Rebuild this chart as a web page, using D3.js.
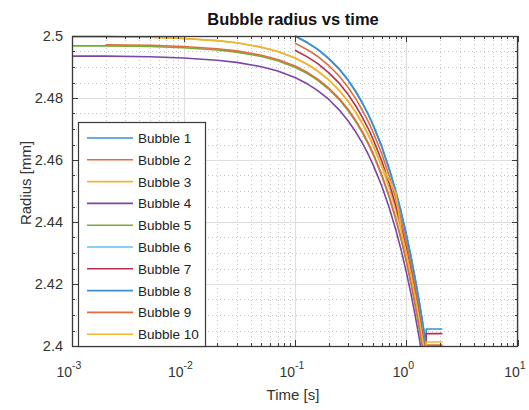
<!DOCTYPE html>
<html>
<head>
<meta charset="utf-8">
<script src="https://cdn.jsdelivr.net/npm/d3@7/dist/d3.min.js"></script>
<style>
  body { margin: 0; background: #fff; }
  svg { display: block; font-family: 'Liberation Sans', Arial, sans-serif; }
</style>
</head>
<body>
<div id="graf"></div>
<script>
// Tiempos muestreados [s] (compartidos por todas las burbujas)
const time = [0.001, 0.002, 0.005, 0.01, 0.02, 0.03, 0.05, 0.07, 0.1, 0.13, 0.16, 0.2, 0.25, 0.3,
              0.35, 0.4, 0.45, 0.5, 0.6, 0.7, 0.8, 0.9, 1.0, 1.1, 1.2, 1.3, 1.4, 1.5]

// Radio [mm], null = la burbuja aun no existe
const bubble1  = [null, null, null, null, null, null, null, null,
                  2.5000, 2.4978, 2.4957, 2.4928, 2.4893, 2.4857, 2.4821, 2.4785, 2.4750, 2.4714,
                  2.4643, 2.4571, 2.4500, 2.4428, 2.4357, 2.4286, 2.4214, 2.4143, 2.4071, 2.4000]
const bubble2  = [null, null, null, null, null, null, null, null,
                  2.4977, 2.4955, 2.4934, 2.4905, 2.4870, 2.4834, 2.4798, 2.4762, 2.4727, 2.4691,
                  2.4620, 2.4548, 2.4477, 2.4405, 2.4334, 2.4263, 2.4191, 2.4120, 2.4048, 2.3977]
const bubble3  = [2.4998, 2.4998, 2.4996, 2.4992, 2.4985, 2.4978, 2.4964, 2.4950,
                  2.4929, 2.4908, 2.4887, 2.4859, 2.4824, 2.4789, 2.4754, 2.4719, 2.4684, 2.4649,
                  2.4579, 2.4509, 2.4439, 2.4369, 2.4299, 2.4229, 2.4159, 2.4089, 2.4019, 2.3949]
const bubble4  = [2.4935, 2.4935, 2.4933, 2.4929, 2.4922, 2.4915, 2.4901, 2.4887,
                  2.4866, 2.4845, 2.4824, 2.4796, 2.4761, 2.4726, 2.4691, 2.4656, 2.4621, 2.4586,
                  2.4516, 2.4446, 2.4376, 2.4306, 2.4236, 2.4166, 2.4096, 2.4026, 2.3956, 2.3886]
const bubble5  = [2.4968, 2.4968, 2.4966, 2.4962, 2.4955, 2.4948, 2.4934, 2.4920,
                  2.4899, 2.4878, 2.4857, 2.4829, 2.4794, 2.4759, 2.4724, 2.4689, 2.4654, 2.4619,
                  2.4549, 2.4479, 2.4409, 2.4339, 2.4269, 2.4199, 2.4129, 2.4059, 2.3989, 2.3919]
const bubble6  = [null, null, null, null, null, null, null, null,
                  2.5000, 2.4978, 2.4957, 2.4928, 2.4893, 2.4857, 2.4821, 2.4785, 2.4750, 2.4714,
                  2.4643, 2.4571, 2.4500, 2.4428, 2.4357, 2.4286, 2.4214, 2.4143, 2.4071, 2.4000]
const bubble7  = [null, null, null, null, null, null, null, null,
                  2.4954, 2.4932, 2.4911, 2.4882, 2.4847, 2.4811, 2.4775, 2.4739, 2.4704, 2.4668,
                  2.4597, 2.4525, 2.4454, 2.4382, 2.4311, 2.4240, 2.4168, 2.4097, 2.4025, 2.3954]
const bubble8  = [null, null, null, null, null, null, null, null,
                  2.5000, 2.4978, 2.4957, 2.4928, 2.4893, 2.4857, 2.4821, 2.4785, 2.4750, 2.4714,
                  2.4643, 2.4571, 2.4500, 2.4428, 2.4357, 2.4286, 2.4214, 2.4143, 2.4071, 2.4000]
const bubble9  = [null, 2.4972, 2.4970, 2.4966, 2.4959, 2.4952, 2.4938, 2.4924,
                  2.4903, 2.4882, 2.4861, 2.4833, 2.4798, 2.4763, 2.4728, 2.4693, 2.4658, 2.4623,
                  2.4553, 2.4483, 2.4413, 2.4343, 2.4273, 2.4203, 2.4133, 2.4063, 2.3993, 2.3923]
const bubble10 = [2.4998, 2.4998, 2.4996, 2.4992, 2.4985, 2.4978, 2.4964, 2.4950,
                  2.4929, 2.4908, 2.4887, 2.4859, 2.4824, 2.4789, 2.4754, 2.4719, 2.4684, 2.4649,
                  2.4579, 2.4535, 2.4495, 2.4369, 2.4299, 2.4229, 2.4159, 2.4089, 2.4019, 2.3949]

// Tramo final horizontal de cada burbuja
const stubTime   = [1.5, 2.1]
const stubRadius = [2.4055, 2.4003, 2.3985, 2.3940, 2.3960, 2.3970, 2.4040, 2.4000, 2.4001, 2.4013]

const names  = ['Bubble 1', 'Bubble 2', 'Bubble 3', 'Bubble 4', 'Bubble 5',
                'Bubble 6', 'Bubble 7', 'Bubble 8', 'Bubble 9', 'Bubble 10']
const colors = ['#3a8fd2', '#df6e3c', '#eeb530', '#7b45a6', '#76ad34',
                '#5cc3ee', '#b5304a', '#3a8fd2', '#df6e3c', '#eeb530']
const radii  = [bubble1, bubble2, bubble3, bubble4, bubble5, bubble6, bubble7, bubble8, bubble9, bubble10]

const xTicks = [1e-3, 1e-2, 1e-1, 1, 10]
const xTickExp = ['-3', '-2', '-1', '0', '1']
const yTicks = [2.4, 2.42, 2.44, 2.46, 2.48, 2.5]

// Dimensiones
const ancho_total = 529, alto_total = 410
const margen = { izquierdo: 72, derecho: 11, superior: 36, inferior: 64 }

const svg = d3.select('#graf').append('svg')
  .attr('width', ancho_total)
  .attr('height', alto_total)

const x = d3.scaleLog().domain([1e-3, 10]).range([margen.izquierdo, ancho_total - margen.derecho])
const y = d3.scaleLinear().domain([2.4, 2.5]).range([alto_total - margen.inferior, margen.superior])

const [x0, x1] = x.range()
const [y0, y1] = y.range()   // y0 abajo, y1 arriba

svg.append('rect').attr('x', x0).attr('y', y1).attr('width', x1 - x0).attr('height', y0 - y1).attr('fill', '#fff')

// Rejilla menor (punteada)
const minorX = x.ticks().filter(t => !xTicks.some(m => Math.abs(m - t) < 1e-9))
const minorY = d3.range(0, 21).map(i => 2.4 + i * 0.005).filter(v => !yTicks.some(m => Math.abs(m - v) < 1e-9))

const grid = svg.append('g')
grid.selectAll('line.mx').data(minorX).enter().append('line')
  .attr('x1', d => Math.round(x(d)) + 0.5).attr('x2', d => Math.round(x(d)) + 0.5)
  .attr('y1', y1).attr('y2', y0)
  .attr('stroke', '#c4c4c4').attr('stroke-dasharray', '1,3')
grid.selectAll('line.my').data(minorY).enter().append('line')
  .attr('y1', d => Math.round(y(d)) + 0.5).attr('y2', d => Math.round(y(d)) + 0.5)
  .attr('x1', x0).attr('x2', x1)
  .attr('stroke', '#c4c4c4').attr('stroke-dasharray', '1,3')
// Rejilla mayor
grid.selectAll('line.gx').data(xTicks).enter().append('line')
  .attr('x1', d => Math.round(x(d)) + 0.5).attr('x2', d => Math.round(x(d)) + 0.5)
  .attr('y1', y1).attr('y2', y0)
  .attr('stroke', '#dedede').attr('stroke-width', 1.2)
grid.selectAll('line.gy').data(yTicks).enter().append('line')
  .attr('y1', d => Math.round(y(d)) + 0.5).attr('y2', d => Math.round(y(d)) + 0.5)
  .attr('x1', x0).attr('x2', x1)
  .attr('stroke', '#dedede').attr('stroke-width', 1.2)

// Curvas
svg.append('clipPath').attr('id', 'clip')
  .append('rect').attr('x', x0).attr('y', y1 - 1).attr('width', x1 - x0).attr('height', y0 - y1 + 1)

const linea = d3.line().x(d => x(d[0])).y(d => y(d[1]))

const series = radii.map((r, i) => {
  const pts = time.map((t, j) => [t, r[j]]).filter(p => p[1] !== null)
  stubTime.forEach(t => pts.push([t, stubRadius[i]]))
  return pts
})

svg.append('g').attr('clip-path', 'url(#clip)')
  .selectAll('path').data(series).enter().append('path')
  .attr('d', linea)
  .attr('fill', 'none')
  .attr('stroke', (d, i) => colors[i])
  .attr('stroke-width', 1.6)
  .attr('stroke-linejoin', 'round')

// Ejes con marcas hacia adentro en los cuatro lados
const ejeColor = '#3a3a3a'
const ejes = svg.append('g').attr('stroke', ejeColor)
const marcasX = xTicks.map(v => [v, 6]).concat(minorX.map(v => [v, 3]))
const marcasY = yTicks.map(v => [v, 6]).concat(minorY.map(v => [v, 3]))

ejes.selectAll('line.tb').data(marcasX).enter().append('line')
  .attr('x1', d => Math.round(x(d[0])) + 0.5).attr('x2', d => Math.round(x(d[0])) + 0.5)
  .attr('y1', y0).attr('y2', d => y0 - d[1])
ejes.selectAll('line.tt').data(marcasX).enter().append('line')
  .attr('x1', d => Math.round(x(d[0])) + 0.5).attr('x2', d => Math.round(x(d[0])) + 0.5)
  .attr('y1', y1).attr('y2', d => y1 + d[1])
ejes.selectAll('line.tl').data(marcasY).enter().append('line')
  .attr('y1', d => Math.round(y(d[0])) + 0.5).attr('y2', d => Math.round(y(d[0])) + 0.5)
  .attr('x1', x0).attr('x2', d => x0 + d[1])
ejes.selectAll('line.tr').data(marcasY).enter().append('line')
  .attr('y1', d => Math.round(y(d[0])) + 0.5).attr('y2', d => Math.round(y(d[0])) + 0.5)
  .attr('x1', x1).attr('x2', d => x1 - d[1])

svg.append('rect')
  .attr('x', x0 + 0.5).attr('y', y1 + 0.5)
  .attr('width', x1 - x0 - 1).attr('height', y0 - y1)
  .attr('fill', 'none').attr('stroke', ejeColor).attr('stroke-width', 1.3)

// Etiquetas de los ejes
const xl = svg.append('g').attr('fill', '#333').style('font-size', '14px')
xTicks.forEach((v, i) => {
  const t = xl.append('text').attr('x', x(v) - 3).attr('y', y0 + 31).attr('text-anchor', 'middle')
  t.append('tspan').text('10')
  t.append('tspan').attr('dy', -8).style('font-size', '10.5px').text(xTickExp[i])
})

svg.append('g').attr('fill', '#333').style('font-size', '14.5px')
  .selectAll('text').data(yTicks).enter().append('text')
  .attr('x', x0 - 9).attr('y', d => y(d) + 5)
  .attr('text-anchor', 'end')
  .text(d => d3.format('.2~f')(d))

svg.append('text')
  .attr('x', (x0 + x1) / 2 - 2).attr('y', 400)
  .attr('text-anchor', 'middle').attr('fill', '#333')
  .style('font-size', '15px')
  .text('Time [s]')

svg.append('text')
  .attr('transform', `translate(31, ${(y0 + y1) / 2 - 8}) rotate(-90)`)
  .attr('text-anchor', 'middle').attr('fill', '#333')
  .style('font-size', '15px')
  .text('Radius [mm]')

svg.append('text')
  .attr('x', 293).attr('y', 25)
  .attr('text-anchor', 'middle').attr('fill', '#111')
  .style('font-size', '16.5px').style('font-weight', 'bold')
  .text('Bubble radius vs time')

// Leyenda
const leyenda = svg.append('g')
leyenda.append('rect')
  .attr('x', 78.5).attr('y', 122.5).attr('width', 127).attr('height', 224)
  .attr('fill', '#fff').attr('stroke', ejeColor).attr('stroke-width', 1.2)

const item = leyenda.selectAll('g').data(names).enter().append('g')
  .attr('transform', (d, i) => `translate(0, ${138 + i * 21.8})`)
item.append('line')
  .attr('x1', 87).attr('x2', 133).attr('y1', 0).attr('y2', 0)
  .attr('stroke', (d, i) => colors[i]).attr('stroke-width', 1.6)
item.append('text')
  .attr('x', 138).attr('y', 5)
  .attr('fill', '#222').style('font-size', '13.5px')
  .text(d => d)
</script>
</body>
</html>
